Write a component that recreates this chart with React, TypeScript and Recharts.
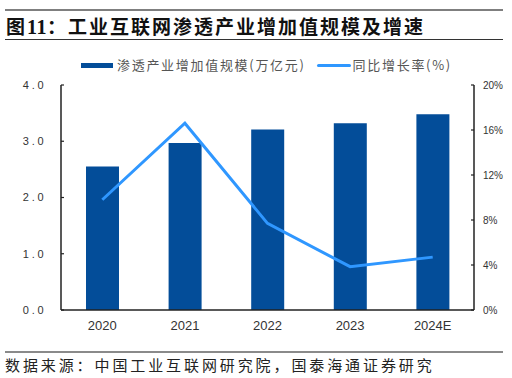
import React from 'react';
import { ComposedChart, Bar, Line, XAxis, YAxis, Legend } from 'recharts';

const categories = ['2020', '2021', '2022', '2023', '2024E'];
const scaleValues = [2.55, 2.97, 3.21, 3.32, 3.48];
const growthValues = [9.8, 16.6, 7.7, 3.85, 4.7];
const leftTicks = [0, 1, 2, 3, 4];
const rightTicks = [0, 4, 8, 12, 16, 20];
const boundaryTicks = [1, 2, 3, 4];
const barName = '渗透产业增加值规模(万亿元)';
const lineName = '同比增长率(%)';
const titleLead = '图';
const titleNum = '11';
const titleColon = '：';
const titleText = '工业互联网渗透产业增加值规模及增速';
const sourceText = '数据来源：中国工业互联网研究院，国泰海通证券研究';

const data = categories.map((c, i) => ({ year: c, scale: scaleValues[i], growth: growthValues[i] }));

const CJK = '"Noto Sans CJK SC", "Noto Sans", sans-serif';
const LATIN = '"Liberation Sans", Arial, sans-serif';
const BAR_COLOR = '#034D99';
const LINE_COLOR = '#2F97FF';
const AXIS_COLOR = '#222';

const renderLegend = (props: any) => {
  const payload = [...(props.payload || [])].sort((a: any, b: any) => (a.type === 'line' ? 1 : 0) - (b.type === 'line' ? 1 : 0));
  return (
    <div style={{ display: 'flex', alignItems: 'center', fontFamily: CJK, fontSize: 13, color: '#555', letterSpacing: 1.7, whiteSpace: 'nowrap', lineHeight: '18px' }}>
      {payload.map((e: any, i: number) => {
        const isLine = e.type === 'line';
        return (
          <div key={i} style={{ display: 'flex', alignItems: 'center', marginRight: 11 }}>
            <span style={{ display: 'inline-block', width: isLine ? 34 : 32, height: isLine ? 3 : 5, background: e.color, marginRight: isLine ? 2 : 4, borderRadius: isLine ? 1.5 : 0 }} />
            <span>{e.value}</span>
          </div>
        );
      })}
    </div>
  );
};

export default function App() {
  return (
    <div style={{ position: 'absolute', left: 0, top: 0, width: 512, height: 378, background: '#fff', overflow: 'hidden' }}>
      <div style={{ position: 'absolute', left: 5, top: 9, width: 498, height: 2, background: '#7f7f7f' }} />
      <div style={{ position: 'absolute', left: 6, top: 14, height: 24, lineHeight: '24px', fontSize: 19, fontWeight: 700, color: '#111', whiteSpace: 'nowrap', letterSpacing: 2, fontFamily: CJK }}>
        <span>{titleLead}</span>
        <span style={{ fontFamily: '"Liberation Serif", "DejaVu Serif", serif', fontSize: 20, letterSpacing: 0.5 }}>{titleNum}</span>
        <span>{titleColon}</span>
        <span>{titleText}</span>
      </div>
      <div style={{ position: 'absolute', left: 5, top: 39, width: 498, height: 1, background: '#333' }} />
      <ComposedChart
        width={512}
        height={378}
        data={data}
        margin={{ top: 85, right: 8, bottom: 38, left: 11 }}
        style={{ position: 'absolute', left: 0, top: 0 }}
      >
        <XAxis
          xAxisId="grid"
          type="number"
          domain={[0, 5]}
          ticks={boundaryTicks}
          tick={false}
          tickSize={-3}
          axisLine={false}
          tickLine={{ stroke: AXIS_COLOR, strokeWidth: 1.2 }}
          height={0}
          interval={0}
        />
        <XAxis
          xAxisId="cat"
          dataKey="year"
          height={30}
          tickLine={false}
          tickSize={0}
          tickMargin={11}
          axisLine={{ stroke: AXIS_COLOR, strokeWidth: 1.5 }}
          tick={{ fill: '#333', fontSize: 13, fontFamily: LATIN }}
          interval={0}
        />
        <YAxis
          yAxisId="l"
          orientation="left"
          width={50}
          domain={[0, 4]}
          ticks={leftTicks}
          interval={0}
          tickSize={-3}
          tickMargin={17.5}
          tickFormatter={(v: number) => v.toFixed(1)}
          axisLine={{ stroke: AXIS_COLOR, strokeWidth: 1.5 }}
          tickLine={{ stroke: AXIS_COLOR, strokeWidth: 1.2 }}
          tick={{ fill: '#333', fontSize: 11, fontFamily: LATIN, letterSpacing: 2.8 }}
        />
        <YAxis
          yAxisId="r"
          orientation="right"
          width={30}
          domain={[0, 20]}
          ticks={rightTicks}
          interval={0}
          tickSize={-3}
          tickMargin={12}
          tickFormatter={(v: number) => `${v}%`}
          axisLine={{ stroke: AXIS_COLOR, strokeWidth: 1.5 }}
          tickLine={{ stroke: AXIS_COLOR, strokeWidth: 1.2 }}
          tick={{ fill: '#333', fontSize: 10, fontFamily: LATIN }}
        />
        <Legend
          layout="horizontal"
          verticalAlign="middle"
          align="center"
          content={renderLegend}
          wrapperStyle={{ top: 56, left: 81, width: 'auto', height: 18 }}
        />
        <Bar xAxisId="cat" yAxisId="l" dataKey="scale" name={barName} fill={BAR_COLOR} barSize={33} isAnimationActive={false} />
        <Line xAxisId="cat" yAxisId="r" dataKey="growth" name={lineName} type="linear" stroke={LINE_COLOR} strokeWidth={3} dot={false} activeDot={false} isAnimationActive={false} />
      </ComposedChart>
      <div style={{ position: 'absolute', left: 5, top: 351, width: 498, height: 2, background: '#8a8a8a' }} />
      <div style={{ position: 'absolute', left: 5, top: 355, height: 20, lineHeight: '20px', fontSize: 15, color: '#222', whiteSpace: 'nowrap', letterSpacing: 2.9, fontFamily: CJK }}>
        {sourceText}
      </div>
    </div>
  );
}
